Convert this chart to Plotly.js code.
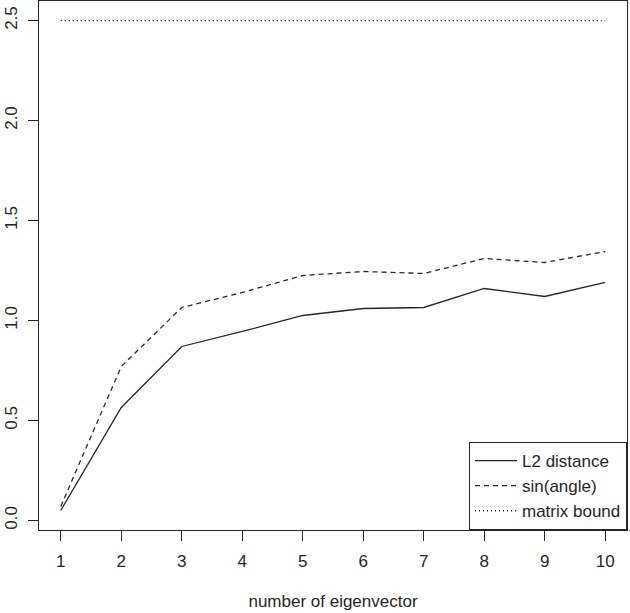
<!DOCTYPE html>
<html>
<head>
<meta charset="utf-8">
<script src="https://cdn.plot.ly/plotly-3.0.1.min.js"></script>
<style>html,body{margin:0;padding:0;background:#fff;}#chart{width:630px;height:613px;}</style>
</head>
<body>
<div id="chart"></div>
<script>
const eigenvector = [1, 2, 3, 4, 5, 6, 7, 8, 9, 10];
const l2Distance = [0.05, 0.565, 0.87, 0.945, 1.025, 1.06, 1.065, 1.16, 1.12, 1.19];
const sinAngle = [0.07, 0.77, 1.065, 1.14, 1.225, 1.245, 1.235, 1.31, 1.29, 1.345];
const matrixBound = [2.5, 2.5, 2.5, 2.5, 2.5, 2.5, 2.5, 2.5, 2.5, 2.5];
const seriesNames = ["L2 distance", "sin(angle)", "matrix bound"];
const yTicks = [0.0, 0.5, 1.0, 1.5, 2.0, 2.5];
const yTickLabels = ["0.0", "0.5", "1.0", "1.5", "2.0", "2.5"];

const ink = "#262626";
const font = {family: "Liberation Sans, Arial, sans-serif", size: 17, color: ink};

const traces = [
  {x: eigenvector, y: l2Distance, name: seriesNames[0], mode: "lines", line: {color: ink, width: 1.3, dash: "solid"}},
  {x: eigenvector, y: sinAngle, name: seriesNames[1], mode: "lines", line: {color: ink, width: 1.3, dash: "5px,4px"}},
  {x: eigenvector, y: matrixBound, name: seriesNames[2], mode: "lines", line: {color: ink, width: 1.3, dash: "1px,3px"}}
];

const layout = {
  width: 630, height: 613,
  margin: {l: 39, r: 3, t: 1, b: 83},
  paper_bgcolor: "#fff", plot_bgcolor: "#fff",
  font: font,
  showlegend: true,
  legend: {x: 1, xanchor: "right", y: 0, yanchor: "bottom", bgcolor: "#fff",
           bordercolor: ink, borderwidth: 1, font: font,
           tracegroupgap: 0, itemwidth: 42},
  xaxis: {
    range: [0.64, 10.36], tickvals: eigenvector, ticktext: eigenvector.map(String),
    showgrid: false, zeroline: false, showline: true, mirror: true, linecolor: ink, linewidth: 1,
    ticks: "outside", ticklen: 10, tickcolor: ink, tickfont: font, ticklabelstandoff: 6,
    title: {text: "number of eigenvector", font: font, standoff: 24}
  },
  yaxis: {
    range: [-0.048, 2.598], tickvals: yTicks, ticktext: yTickLabels, tickangle: -90,
    showgrid: false, zeroline: false, showline: true, mirror: true, linecolor: ink, linewidth: 1,
    ticks: "outside", ticklen: 10, tickcolor: ink, tickfont: font, ticklabelstandoff: 4
  }
};

Plotly.newPlot("chart", traces, layout, {displayModeBar: false, staticPlot: true});
</script>
</body>
</html>
